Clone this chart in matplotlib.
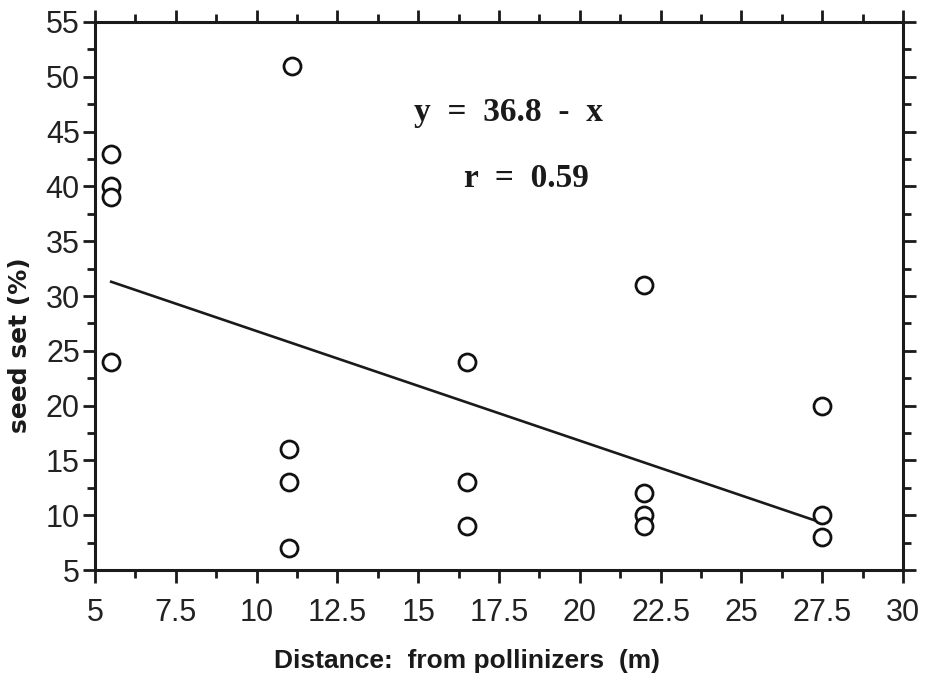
import matplotlib
matplotlib.use("Agg")
import matplotlib.pyplot as plt
from matplotlib.ticker import MultipleLocator, FixedLocator, FixedFormatter
import numpy as np

# Seed set (%) against distance from pollinizers (m)
distance = [5.5, 5.5, 5.5, 5.5,
            11.0, 11.1, 11.0, 11.0,
            16.5, 16.5, 16.5,
            22.0, 22.0, 22.0, 22.0,
            27.5, 27.5, 27.5]
seed_set = [43, 40, 39, 24,
            16, 51, 13, 7,
            24, 13, 9,
            31, 12, 10, 9,
            20, 10, 8]

# Fitted regression y = 36.8 - x
intercept = 36.8
slope = -1.0
fit_range = [5.5, 27.5]

x_ticks = [5, 7.5, 10, 12.5, 15, 17.5, 20, 22.5, 25, 27.5, 30]
x_tick_labels = ["5", "7.5", "10", "12.5", "15", "17.5", "20", "22.5", "25", "27.5", "30"]
y_ticks = [5, 10, 15, 20, 25, 30, 35, 40, 45, 50, 55]
y_tick_labels = [str(v) for v in y_ticks]

fig = plt.figure(figsize=(9.29, 6.79), dpi=100)
ax = fig.add_axes([0.1023, 0.1605, 0.8697, 0.8071])

ax.scatter(distance, seed_set, s=150, facecolors="white", edgecolors="#111111",
           linewidths=2.0, zorder=3)

fx = np.array(fit_range)
ax.plot(fx, intercept + slope * fx, color="#1a1a1a", lw=1.9, zorder=2)

ax.set_xlim(5, 30)
ax.set_ylim(5, 55)

ax.xaxis.set_major_locator(FixedLocator(x_ticks))
ax.xaxis.set_major_formatter(FixedFormatter(x_tick_labels))
ax.xaxis.set_minor_locator(MultipleLocator(1.25))
ax.yaxis.set_major_locator(FixedLocator(y_ticks))
ax.yaxis.set_major_formatter(FixedFormatter(y_tick_labels))
ax.yaxis.set_minor_locator(MultipleLocator(2.5))

for side in ["left", "right", "top", "bottom"]:
    ax.spines[side].set_linewidth(2.2)
    ax.spines[side].set_color("#1a1a1a")

tick_family = ["Liberation Sans", "DejaVu Sans"]
ax.tick_params(axis="both", which="major", direction="out", length=9, width=2,
               color="#1a1a1a", top=True, right=True, labelcolor="#222222")
ax.tick_params(axis="both", which="minor", direction="out", length=6, width=2,
               color="#1a1a1a", top=True, right=True)
ax.tick_params(axis="x", which="major", pad=11)
ax.tick_params(axis="y", which="major", pad=2)
for lab in ax.get_xticklabels() + ax.get_yticklabels():
    lab.set_fontfamily(tick_family)
    lab.set_fontsize(22)

ax.set_xlabel("Distance:  from pollinizers  (m)",
              fontfamily=["Liberation Sans Narrow", "Liberation Sans", "DejaVu Sans"],
              fontweight="bold", fontsize=19, color="#1a1a1a")
ax.xaxis.set_label_coords(0.46, -0.145)
ax.set_ylabel("seed set (%)", fontfamily=["DejaVu Sans"], fontweight="bold",
              fontsize=18, color="#1a1a1a")
ax.yaxis.set_label_coords(-0.078, 0.41)

serif = ["Liberation Serif", "DejaVu Serif"]
ax.text(0.395, 0.835, "y  =  36.8  -  x", transform=ax.transAxes, ha="left",
        va="center", fontfamily=serif, fontweight="bold", fontsize=24,
        color="#1a1a1a")
ax.text(0.457, 0.714, "r  =  0.59", transform=ax.transAxes, ha="left",
        va="center", fontfamily=serif, fontweight="bold", fontsize=24,
        color="#1a1a1a")

fig.savefig("out.png", dpi=100)
